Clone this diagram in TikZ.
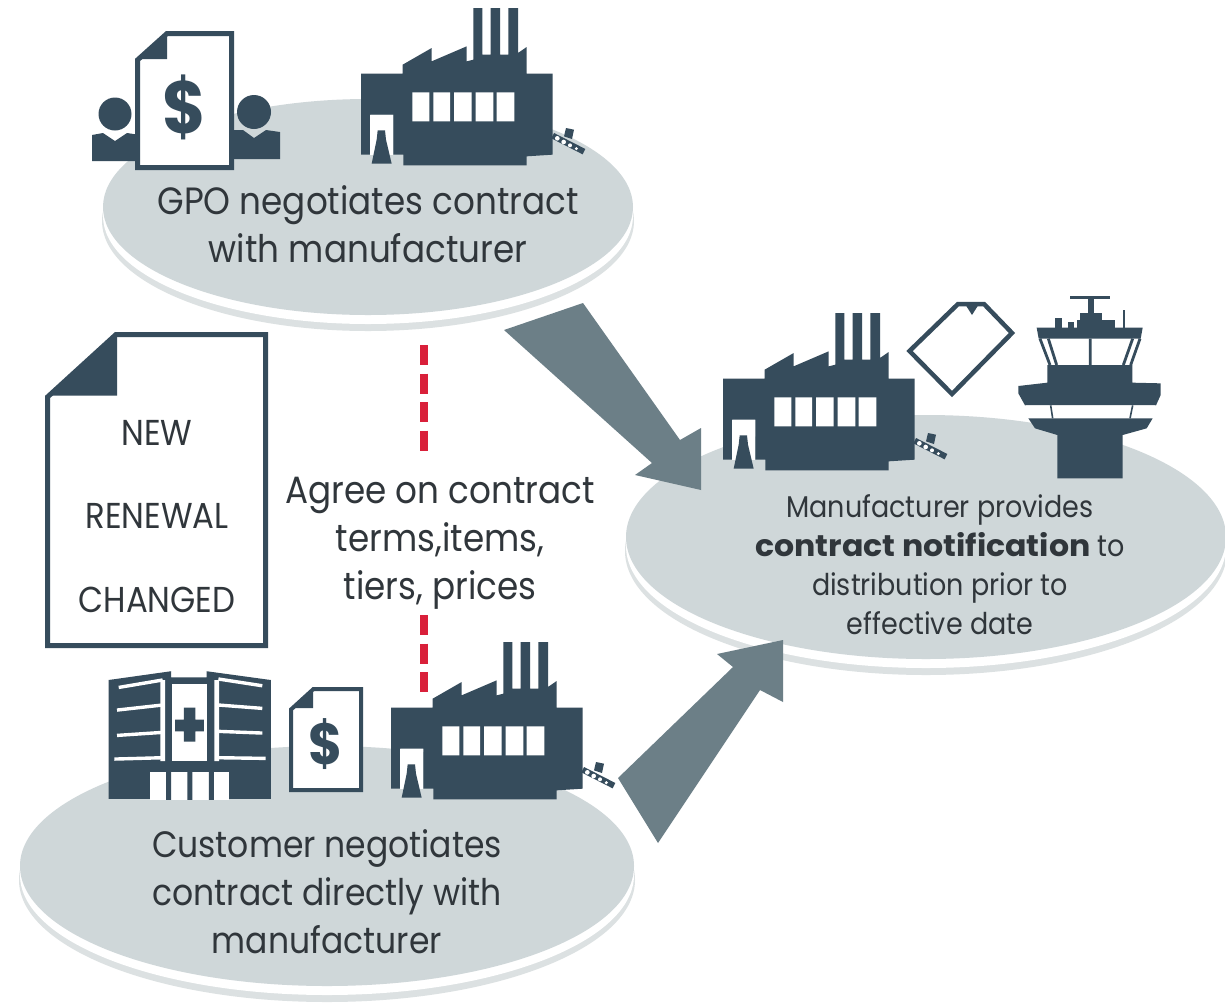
\documentclass[tikz,border=0pt]{standalone}
\usepackage{fontspec}
\setmainfont[FakeStretch=0.9]{Poppins}
\definecolor{slate}{HTML}{364C5C}
\definecolor{disc}{HTML}{CFD7D9}
\definecolor{rim}{HTML}{DCE1E2}
\definecolor{arrowc}{HTML}{6C7F87}
\definecolor{redd}{HTML}{D9203A}
\definecolor{ink}{HTML}{30363B}
\newcommand{\factoryicon}[2]{%
\begin{scope}[shift={(#1,#2)},scale=1/3,shift={(-843,-25)}]
\fill[slate] (843,222)--(968,222)--(968,195)--(1055,145)--(1055,185)--(1160,140)--(1160,185)--(1180,180)--(1180,25)--(1207,25)--(1207,165)--(1232,165)--(1232,25)--(1260,25)--(1260,165)--(1285,165)--(1285,25)--(1314,25)--(1314,160)--(1340,142)--(1340,222)--(1418,222)--(1418,465)--(1340,470)--(1340,497)--(970,497)--(970,465)--(940,465)--(940,345)--(870,345)--(870,465)--(843,465)--cycle;
\fill[white] (870,345) rectangle (940,465);
\fill[white] (997,278) rectangle (1048,365) (1060,278) rectangle (1110,365) (1122,278) rectangle (1175,365) (1187,278) rectangle (1240,365) (1250,278) rectangle (1303,365);
\fill[slate] (893,392)--(915,392)--(918,420)--(935,492)--(875,492)--(890,420)--cycle;
\draw[slate,line width=6pt] (1418,408)--(1512,456);
\fill[white] (1432,416) circle (7) (1451,427) circle (7) (1470,437) circle (6) (1489,447) circle (5);
\fill[slate] (1458,385)--(1482,390)--(1476,418)--(1452,410)--cycle;
\end{scope}}
\newcommand{\ringdisc}[4]{%
\fill[rim] (#1,#2+14) ellipse [x radius=#3+1,y radius=#4+2];
\fill[white] (#1,#2+9) ellipse [x radius=#3,y radius=#4];
\fill[disc] (#1,#2) ellipse [x radius=#3,y radius=#4];}
\tikzset{
  x=1pt,y=-1pt,
  lab/.style={font=\fontsize{38}{48}\selectfont,text=ink,align=center,inner sep=0pt},
  labc/.style={font=\fontsize{36.7}{48}\selectfont,text=ink,align=center,inner sep=0pt},
  labs/.style={font=\fontsize{30}{39}\selectfont,text=ink,align=center,inner sep=0pt},
  docl/.style={font=\fontsize{36}{36}\selectfont,text=ink,inner sep=0pt},
  docline/.style={draw=slate,fill=white,line join=miter},
  bigarrow/.style={fill=arrowc},
  reddash/.style={draw=redd,line width=8pt,dash pattern=on 20pt off 8.5pt}
}
\begin{document}
\begin{tikzpicture}
\useasboundingbox (0,0) rectangle (1225,1002);
\fill[white] (0,0) rectangle (1225,1002);
% discs
\ringdisc{368}{207}{265}{108}
\ringdisc{926}{537}{300}{122}
\ringdisc{327}{866}{307}{120}
% top-left icons
\fill[slate] (115,114) circle (16.5);
\fill[slate] (92,135)--(103,133)--(115,141)--(127,133)--(140,135)--(140,161)--(92,161)--cycle;
\fill[slate] (254,112) circle (17);
\fill[slate] (233,130)--(243,130)--(254,138)--(266,130)--(280,132)--(280,159)--(233,159)--cycle;
\draw[docline,line width=5pt] (137.5,60)--(167,33.5)--(231.5,33.5)--(231.5,167.5)--(137.5,167.5)--cycle;
\fill[slate] (139,59)--(167,59)--(167,33)--cycle;
\node[font=\fontsize{74}{74}\bfseries\selectfont,text=slate,inner sep=0pt] (dollarA) at (184,107) {\$};
\factoryicon{361}{8}
% right icons
\factoryicon{723}{313}
\draw[docline,line width=4.5pt] (909.5,351)--(952,394)--(1012,333)--(984,304)--(958,304)--cycle;
\fill[slate] (965,304)--(979,304)--(972,315)--cycle;
\begin{scope}[shift={(700,280)},scale=1/3]
\fill[slate] (1110,48) rectangle (1230,56);
\fill[slate] (1163,56) rectangle (1182,100);
\fill[slate] (1140,98) rectangle (1205,125);
\fill[slate] (1130,120) rectangle (1245,145);
\fill[slate] (1065,115) rectangle (1086,145);
\fill[slate] (1105,125) rectangle (1122,145);
\fill[slate] (1268,90) rectangle (1276,145);
\fill[slate] (1010,143)--(1328,143)--(1322,176)--(1016,176)--cycle;
\draw[slate,line width=2.8pt] (1020,176)--(1050,255) (1045,176)--(1070,255) (1171,176)--(1171,255) (1320,176)--(1292,255) (1298,176)--(1270,255);
\fill[slate] (1042,255)--(1297,255)--(1297,308)--(1382,310)--(1382,345)--(1368,376)--(975,376)--(955,340)--(955,318)--(1042,308)--cycle;
\fill[white] (977,376)--(1366,376)--(1356,415)--(990,415)--cycle;
\draw[slate,line width=1.6pt] (1052,376)--(1058,415) (1298,376)--(1290,415);
\fill[slate] (985,415)--(1358,415)--(1340,445)--(1268,465)--(1268,595)--(1072,595)--(1072,465)--(1005,445)--cycle;
\end{scope}
% document with status labels
\draw[docline,line width=5pt] (47.5,397)--(116,334.5)--(265.5,334.5)--(265.5,645.5)--(47.5,645.5)--cycle;
\fill[slate] (50,395.5)--(117,395.5)--(117,334)--cycle;
\node[docl] (new) at (157,433) {NEW};
\node[docl] (renewal) at (157,516) {RENEWAL};
\node[docl] (changed) at (157,600) {CHANGED};
% bottom icons
\begin{scope}[shift={(90,630)},scale=1/2.96]
\fill[slate] (55,148)--(240,122)--(240,140)--(345,140)--(345,122)--(535,148)--(535,500)--(55,500)--cycle;
\fill[white] (243,160) rectangle (347,388);
\fill[slate] (278,230) rectangle (312,330) (252,265) rectangle (337,300);
\fill[white] (208,148) rectangle (222,388) (368,148) rectangle (382,388);
\draw[white,line width=3.4pt] (85,170)--(215,148) (80,237)--(215,222) (80,312)--(215,303) (72,382)--(215,378) (380,145)--(510,165) (380,222)--(510,232) (380,300)--(510,305) (380,378)--(520,380);
\fill[white] (178,420) rectangle (410,503);
\fill[slate] (225,420) rectangle (240,503) (288,420) rectangle (303,503) (352,420) rectangle (367,503);
\end{scope}
\draw[docline,line width=4pt] (291,709.5)--(313.5,689)--(361,689)--(361,790)--(291,790)--cycle;
\fill[slate] (292,708)--(313,708)--(313,689)--cycle;
\node[font=\fontsize{58}{58}\bfseries\selectfont,text=slate,inner sep=0pt] (dollarB) at (325.5,744) {\$};
\factoryicon{391}{642}
% red dashes
\coordinate (dashA) at (424,345);
\coordinate (dashB) at (424,453);
\coordinate (dashC) at (424,615);
\coordinate (dashD) at (424,693);
\draw[reddash] (dashA)--(dashB);
\draw[reddash] (dashC)--(dashD);
% arrows
\fill[bigarrow] (504,330)--(583,303)--(680,440)--(701,428)--(701,490)--(635,475)--(652,463)--cycle;
\fill[bigarrow] (618,778)--(733,667)--(717,654)--(783,640)--(783,702)--(760,690)--(658,843)--cycle;
% labels
\node[lab] (gpo) at (368,224) {GPO negotiates contract\\with manufacturer};
\node[lab] (agree) at (440,543) {Agree on contract\\terms,items,\\tiers, prices};
\node[labc] (cust) at (327,892) {Customer negotiates\\contract directly with\\manufacturer};
\node[labs] (manu) at (940,565) {Manufacturer provides\\\scalebox{1.17}[1]{\textbf{contract notification}} to\\distribution prior to\\effective date};
\end{tikzpicture}
\end{document}
